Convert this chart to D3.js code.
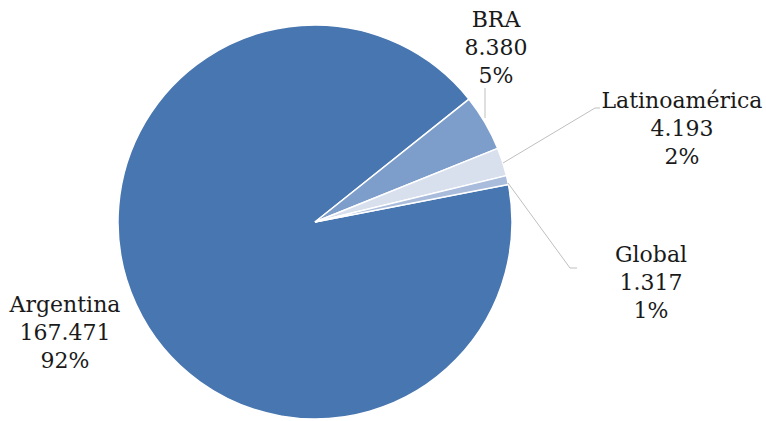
<!DOCTYPE html>
<html><head><meta charset="utf-8">
<script src="https://cdn.jsdelivr.net/npm/d3@7"></script>
<style>body{margin:0;background:#fff}svg{display:block}text{font-family:"DejaVu Serif",serif;fill:#1a1a1a}</style>
</head><body><svg id="c" width="766" height="421"></svg>
<script>
const categories = ["Argentina", "BRA", "Latinoamérica", "Global"];
const values = [167.471, 8.380, 4.193, 1.317];
const valueLabels = ["167.471", "8.380", "4.193", "1.317"];
const percentLabels = ["92%", "5%", "2%", "1%"];
const colors = ["#4876b0", "#7d9dca", "#d8e0ee", "#a9bcdc"];

const svg = d3.select("#c");
const cx = 315, cy = 222, r = 197;
const start = 79 * Math.PI / 180;
const pie = d3.pie().sort(null).startAngle(start).endAngle(start + 2 * Math.PI);
const arcs = pie(values);
const arc = d3.arc().innerRadius(0).outerRadius(r);
const g = svg.append("g").attr("transform", `translate(${cx},${cy})`);
g.selectAll("path").data(arcs).join("path")
  .attr("d", arc).attr("fill", (d, i) => colors[i])
  .attr("stroke", "#fff").attr("stroke-width", 1.5);

// label layout: center x and first baseline y, leader lines
const layout = [
  {x: 65, y: 312, leader: null},
  {x: 496, y: 27, leader: [[485, 88], [485, 118]]},
  {x: 682, y: 108, leader: [[600, 108], [595, 108], [503, 163]]},
  {x: 651, y: 262, leader: [[577, 268], [570, 268], [508, 183]]}
];
const lh = 28;
layout.forEach((L, i) => {
  if (L.leader) {
    svg.append("path").attr("d", d3.line()(L.leader))
      .attr("fill", "none").attr("stroke", "#bfbfbf").attr("stroke-width", 1);
  }
  const t = svg.append("text").attr("text-anchor", "middle").attr("font-size", 22);
  [categories[i], valueLabels[i], percentLabels[i]].forEach((s, k) => {
    t.append("tspan").attr("x", L.x).attr("y", L.y + k * lh).text(s);
  });
});
</script></body></html>
